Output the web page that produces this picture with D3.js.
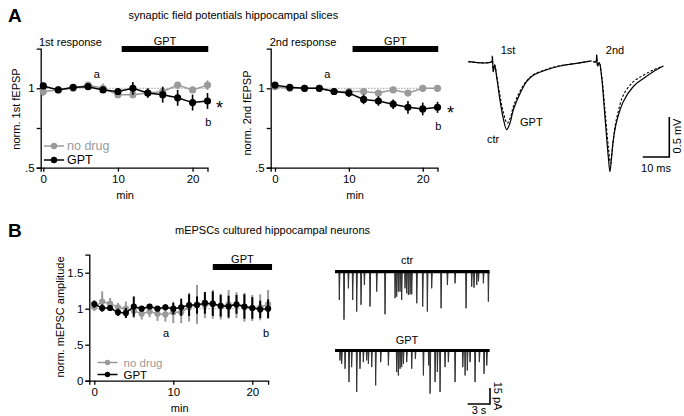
<!DOCTYPE html>
<html><head><meta charset="utf-8">
<script src="https://cdn.jsdelivr.net/npm/d3@7"></script>
<style>
body{margin:0;background:#fff;}
text{font-family:"Liberation Sans",Arial,sans-serif;}
</style></head>
<body><svg id="c" width="684" height="416"></svg>
<script>
// ---------- DATA ----------
const minutesA = [0,2,4,6,8,10,12,14,16,18,20,22];
const a1Gpt = [1.015,0.99,1.006,1.01,0.99,0.98,1.0,0.97,0.96,0.94,0.91,0.92];
const a1GptErr = [0.02,0.015,0.015,0.015,0.02,0.015,0.04,0.03,0.05,0.05,0.05,0.05];
const a1NoDrug = [0.98,0.99,1.0,1.02,1.0,0.96,0.96,0.97,0.98,1.02,0.99,1.02];
const a1NoDrugErr = [0.03,0.015,0.02,0.015,0.03,0.015,0.02,0.015,0.02,0.02,0.02,0.03];
const a2Gpt = [1.02,1.006,1.0,1.0,0.98,0.97,0.93,0.92,0.90,0.88,0.87,0.88];
const a2GptErr = [0.015,0.01,0.01,0.01,0.01,0.025,0.03,0.03,0.03,0.04,0.04,0.035];
const a2NoDrug = [1.01,1.0,1.0,1.0,0.98,0.98,0.98,0.97,0.99,0.97,1.0,1.0];
const a2NoDrugErr = [0.01,0.01,0.01,0.01,0.01,0.01,0.01,0.01,0.01,0.01,0.01,0.01];
const minutesB = d3.range(0,23);
const bGpt = [1.064,1.01,1.01,0.95,0.94,1.03,1.0,1.03,1.0,1.02,1.0,1.02,1.05,1.05,1.08,1.07,1.04,1.03,1.06,1.03,1.01,0.99,1.0];
const bGptErr = [0.05,0.05,0.04,0.05,0.07,0.14,0.03,0.03,0.03,0.04,0.08,0.12,0.15,0.12,0.15,0.17,0.15,0.15,0.13,0.17,0.15,0.12,0.13];
const bNoDrug = [1.02,1.10,1.07,1.02,1.0,0.97,0.93,0.96,0.93,0.92,0.95,0.95,1.02,1.06,1.05,1.06,1.03,1.06,1.05,1.02,1.01,1.02,1.06];
const bNoDrugErr = [0.05,0.14,0.08,0.06,0.1,0.1,0.08,0.08,0.1,0.1,0.15,0.15,0.2,0.27,0.18,0.2,0.18,0.2,0.18,0.2,0.18,0.18,0.2];
const drugA = [10.5, 22.1];
const drugB = [15, 22.5];
const yTicksA = [0.5, 0.75, 1];
const yTickLabelsA = [".5", "", "1"];
const yTicksB = [0, 0.5, 1, 1.5];
const yTickLabelsB = ["0", ".5", "1", "1.5"];
const xTicks = [0, 10, 20];

// fEPSP traces: [ms, mV]
const tr1Ctr = [[0,0],[8.8,0],[9.06,0.07],[9.43,-0.125],[9.94,-0.04],[10.7,-0.19],[11.95,-0.48],[13.2,-0.71],[14.47,-0.85],[15.7,-0.77],[17.0,-0.60],[19.5,-0.40],[22.0,-0.25],[24.5,-0.17],[29.6,-0.10],[34.6,-0.054],[40.9,-0.02],[46.5,0.01]];
const tr1Gpt = [[0,0],[8.8,0],[9.06,0.07],[9.43,-0.125],[9.94,-0.04],[10.7,-0.17],[11.95,-0.42],[13.2,-0.63],[14.7,-0.77],[15.9,-0.70],[17.0,-0.56],[19.5,-0.37],[22.0,-0.24],[24.5,-0.165],[29.6,-0.095],[34.6,-0.05],[40.9,-0.02],[46.5,0.01]];
const tr2Ctr = [[0,0],[1.0,0],[1.26,0.083],[1.64,-0.054],[2.26,-0.0125],[3.14,-0.19],[4.4,-0.69],[5.66,-1.19],[6.29,-1.375],[6.9,-1.19],[7.55,-0.98],[8.8,-0.75],[11.3,-0.5],[15.1,-0.31],[18.9,-0.21],[22.6,-0.125],[26.4,-0.054]];
const tr2Gpt = [[0,0],[1.0,0],[1.26,0.083],[1.64,-0.054],[2.26,-0.0125],[3.14,-0.17],[4.4,-0.6],[5.66,-1.06],[6.54,-1.27],[7.3,-1.06],[8.2,-0.81],[9.4,-0.625],[11.3,-0.42],[15.1,-0.25],[18.9,-0.17],[22.6,-0.104],[26.4,-0.054]];

// mEPSC events: [s, pA amplitude]
const ctrEvents = [[0.58,26.5],[1.21,45],[1.8,15.6],[2.38,26.5],[2.92,37.4],[3.5,31],[3.95,12.5],[4.71,32.7],[5.61,18.7],[6.73,39.9],[8.08,24.9],[8.3,23.4],[8.52,18.7],[8.75,18.7],[8.97,26.5],[9.42,15.6],[9.65,20.2],[9.87,21.8],[10.1,21.2],[10.32,21.2],[11.0,29.6],[11.8,32.7],[12.42,37.4],[13.01,15.6],[14.27,34.3],[15.12,12.5],[16.15,10.9],[17.63,34.3],[18.39,14],[18.7,15],[19.07,12.5],[19.3,9],[19.96,10.9],[20.63,28]];
const gptEvents = [[0.67,9.3],[0.9,12.5],[1.35,17.1],[1.88,29.6],[2.24,15.6],[2.92,38.9],[3.36,17.1],[3.81,10.9],[4.26,9.3],[4.49,12.5],[4.94,15.6],[5.47,32.7],[6.15,10.9],[7.18,14],[8.3,20.2],[8.52,23.4],[8.75,17.1],[8.97,15.6],[9.2,12.5],[9.65,10.9],[10.32,17.1],[10.81,7.8],[11.89,23.4],[12.6,14],[12.79,40.5],[13.46,29.6],[13.77,20.2],[14.13,38.9],[14.8,15.6],[15.25,10.9],[16.15,29.6],[17.19,15.6],[17.5,23.4],[17.8,18.7],[18.17,10.9],[18.84,29.6],[19.42,10.9],[20.05,21.8],[20.42,14]];
const traceDurationS = 20.8;

// ---------- DRAW ----------
const svg = d3.select("#c");
const GRAY = "#9a9a9a";
const FS = 11;

function chart(o){
  const g = svg.append("g");
  const x = d3.scaleLinear().domain(o.xDom).range(o.xRange);
  const y = d3.scaleLinear().domain(o.yDom).range(o.yRange);
  g.append("line").attr("x1",x(0)).attr("x2",x(22)).attr("y1",y(1)).attr("y2",y(1))
    .attr("stroke","#888").attr("stroke-width",0.8).attr("stroke-dasharray","1.5,1.5");
  const xa = g.append("g").attr("transform",`translate(0,${o.yRange[0]})`)
    .call(d3.axisBottom(x).tickValues(xTicks).tickSizeOuter(0).tickSize(4).tickPadding(3));
  const ya = g.append("g").attr("transform",`translate(${o.xRange[0]},0)`)
    .call(d3.axisLeft(y).tickValues(o.yTicks).tickFormat((d,i)=>o.yLabels[i]).tickSizeOuter(0).tickSize(4).tickPadding(2));
  [xa,ya].forEach(a=>{a.selectAll("path,line").attr("stroke","#000").attr("stroke-width",1.3);
    a.selectAll("text").attr("font-size",11.5).attr("font-family","Liberation Sans, Arial").attr("fill","#000");});
  g.append("rect").attr("x",x(o.drug[0])).attr("width",x(o.drug[1])-x(o.drug[0]))
    .attr("y",o.barY-3).attr("height",6).attr("fill","#000");
  g.append("text").attr("x",(x(o.drug[0])+x(o.drug[1]))/2).attr("y",o.barY-4)
    .attr("text-anchor","middle").attr("font-size",FS).text("GPT");
  function series(xs, vals, errs, color, r){
    errs.forEach((e,i)=>g.append("line").attr("x1",x(xs[i])).attr("x2",x(xs[i]))
      .attr("y1",y(vals[i]-e)).attr("y2",y(vals[i]+e)).attr("stroke",color).attr("stroke-width",o.ebw));
    g.append("path").datum(vals).attr("fill","none").attr("stroke",color).attr("stroke-width",1.5)
      .attr("d",d3.line().x((d,i)=>x(xs[i])).y(d=>y(d)));
    g.selectAll(null).data(vals).join("circle").attr("cx",(d,i)=>x(xs[i])).attr("cy",d=>y(d))
      .attr("r",r).attr("fill",color);
  }
  series(o.xs, o.gray, o.grayErr, GRAY, o.r);
  series(o.xs, o.black, o.blackErr, "#000", o.r);
  g.append("text").attr("x",(o.xRange[0]+o.xRange[1])/2+1).attr("y",o.yRange[0]+31).attr("text-anchor","middle")
    .attr("font-size",FS).text("min");
  g.append("text").attr("transform",`translate(${o.yLabX},${o.yLabY}) rotate(-90)`)
    .attr("text-anchor","middle").attr("font-size",FS).text(o.yLabel);
  if(o.legend){
    const L=o.legend;
    [[GRAY,"no drug",L.y1],["#000","GPT",L.y2]].forEach(([c,t,yy])=>{
      g.append("line").attr("x1",L.x).attr("x2",L.x+20).attr("y1",yy).attr("y2",yy).attr("stroke",c).attr("stroke-width",1.5);
      g.append("circle").attr("cx",L.x+10).attr("cy",yy).attr("r",o.r-0.4).attr("fill",c);
      g.append("text").attr("x",L.x+L.tx).attr("y",yy+4.2).attr("font-size",L.fs).attr("fill",c).text(t);
    });
  }
  (o.notes||[]).forEach(n=>g.append("text").attr("x",n[0]).attr("y",n[1]).attr("text-anchor","middle")
    .attr("font-size",n[3]||FS).text(n[2]));
  return {x,y};
}

chart({xDom:[-0.35,22],xRange:[40.7,207.5],yDom:[0.5,1.25],yRange:[167.7,48.6],
  yTicks:yTicksA,yLabels:yTickLabelsA,drug:drugA,barY:49,xs:minutesA,
  gray:a1NoDrug,grayErr:a1NoDrugErr,black:a1Gpt,blackErr:a1GptErr,r:3.6,ebw:1.6,
  yLabel:"norm. 1st fEPSP",yLabX:20,yLabY:109,
  legend:{x:44,y1:146,y2:160,tx:23,fs:12.5},
  notes:[[96.7,77.5,"a"],[208.3,126,"b"],[219.5,114,"*",18],[70.5,45.5,"1st response"]]});
chart({xDom:[-0.58,22],xRange:[270.7,437.5],yDom:[0.5,1.25],yRange:[167.7,48.6],
  yTicks:yTicksA,yLabels:yTickLabelsA,drug:drugA,barY:49,xs:minutesA,
  gray:a2NoDrug,grayErr:a2NoDrugErr,black:a2Gpt,blackErr:a2GptErr,r:3.6,ebw:1.6,
  yLabel:"norm. 2nd fEPSP",yLabX:251,yLabY:113,
  notes:[[327.3,77.5,"a"],[438.3,130,"b"],[450.5,119,"*",18],[303,45.5,"2nd response"]]});
chart({xDom:[-0.63,22],xRange:[89.3,268.1],yDom:[0,1.75],yRange:[380.7,254.7],
  yTicks:yTicksB,yLabels:yTickLabelsB,drug:drugB,barY:267,xs:minutesB,
  gray:bNoDrug,grayErr:bNoDrugErr,black:bGpt,blackErr:bGptErr,r:3.1,ebw:2,
  yLabel:"norm. mEPSC amplitude",yLabX:64,yLabY:317,
  legend:{x:97.5,y1:362.5,y2:374.5,tx:26,fs:11.5},
  notes:[[166,336.5,"a"],[266,336.5,"b"]]});

// panel labels & titles
svg.append("text").attr("x",8).attr("y",22).attr("font-size",19).attr("font-weight","bold")
  .attr("font-family","DejaVu Sans Condensed").text("A");
svg.append("text").attr("x",8).attr("y",237).attr("font-size",19).attr("font-weight","bold")
  .attr("font-family","DejaVu Sans Condensed").text("B");
svg.append("text").attr("x",128.5).attr("y",18.5).attr("font-size",FS).text("synaptic field potentials hippocampal slices");
svg.append("text").attr("x",175).attr("y",233.5).attr("font-size",FS).text("mEPSCs cultured hippocampal neurons");

// fEPSP traces
const msX = d3.scaleLinear().domain([0,10]).range([0,26.5]);
const mvY = d3.scaleLinear().domain([0,-0.5]).range([0,40]);
const tline = d3.line().x(d=>msX(d[0])).y(d=>mvY(d[1])).curve(d3.curveCatmullRom);
[[468.3,tr1Ctr,tr1Gpt],[593.3,tr2Ctr,tr2Gpt]].forEach(([ox,c,gp])=>{
  const g = svg.append("g").attr("transform",`translate(${ox},61.7)`);
  g.append("path").attr("d",tline(gp)).attr("fill","none").attr("stroke","#000").attr("stroke-width",1.1).attr("stroke-dasharray","2.5,1.8");
  g.append("path").attr("d",tline(c)).attr("fill","none").attr("stroke","#000").attr("stroke-width",1.2);
});
svg.append("text").attr("x",508).attr("y",54).attr("text-anchor","middle").attr("font-size",FS).text("1st");
svg.append("text").attr("x",615).attr("y",54).attr("text-anchor","middle").attr("font-size",FS).text("2nd");
svg.append("text").attr("x",493).attr("y",143).attr("text-anchor","middle").attr("font-size",FS).text("ctr");
svg.append("text").attr("x",520).attr("y",126).attr("font-size",FS).text("GPT");
svg.append("path").attr("d",`M${669.3},${157-mvY(-0.5)} V157 H${669.3-msX(10)}`).attr("fill","none").attr("stroke","#000").attr("stroke-width",1.6);
svg.append("text").attr("x",656).attr("y",172).attr("text-anchor","middle").attr("font-size",FS).text("10 ms");
svg.append("text").attr("transform","translate(680.5,136) rotate(-90)").attr("text-anchor","middle").attr("font-size",FS).text("0.5 mV");

// mEPSC traces
const sX = d3.scaleLinear().domain([0,3]).range([0,22.3]);
const pA = d3.scaleLinear().domain([0,15]).range([0,16]);
[[271.7,ctrEvents,"ctr",260],[350.5,gptEvents,"GPT",340]].forEach(([by,ev,lab,ly])=>{
  const g = svg.append("g").attr("transform",`translate(335,${by})`);
  g.selectAll(null).data(ev).join("path")
    .attr("d",d=>`M${sX(d[0])-0.4},0 L${sX(d[0])},${pA(d[1])} L${sX(d[0])+0.6},0`)
    .attr("fill","#444").attr("stroke","#333").attr("stroke-width",1);
  g.append("line").attr("x1",0).attr("x2",sX(traceDurationS)).attr("y1",0).attr("y2",0)
    .attr("stroke","#000").attr("stroke-width",3.2);
  svg.append("text").attr("x",407).attr("y",ly+4).attr("text-anchor","middle").attr("font-size",FS).text(lab);
});
svg.append("path").attr("d",`M490,${404-pA(15)} V404 H${490-sX(3)}`).attr("fill","none").attr("stroke","#000").attr("stroke-width",1.6);
svg.append("text").attr("x",479).attr("y",414).attr("text-anchor","middle").attr("font-size",FS).text("3 s");
svg.append("text").attr("transform","translate(493.5,396) rotate(90)").attr("text-anchor","middle").attr("font-size",FS).text("15 pA");
</script></body></html>
